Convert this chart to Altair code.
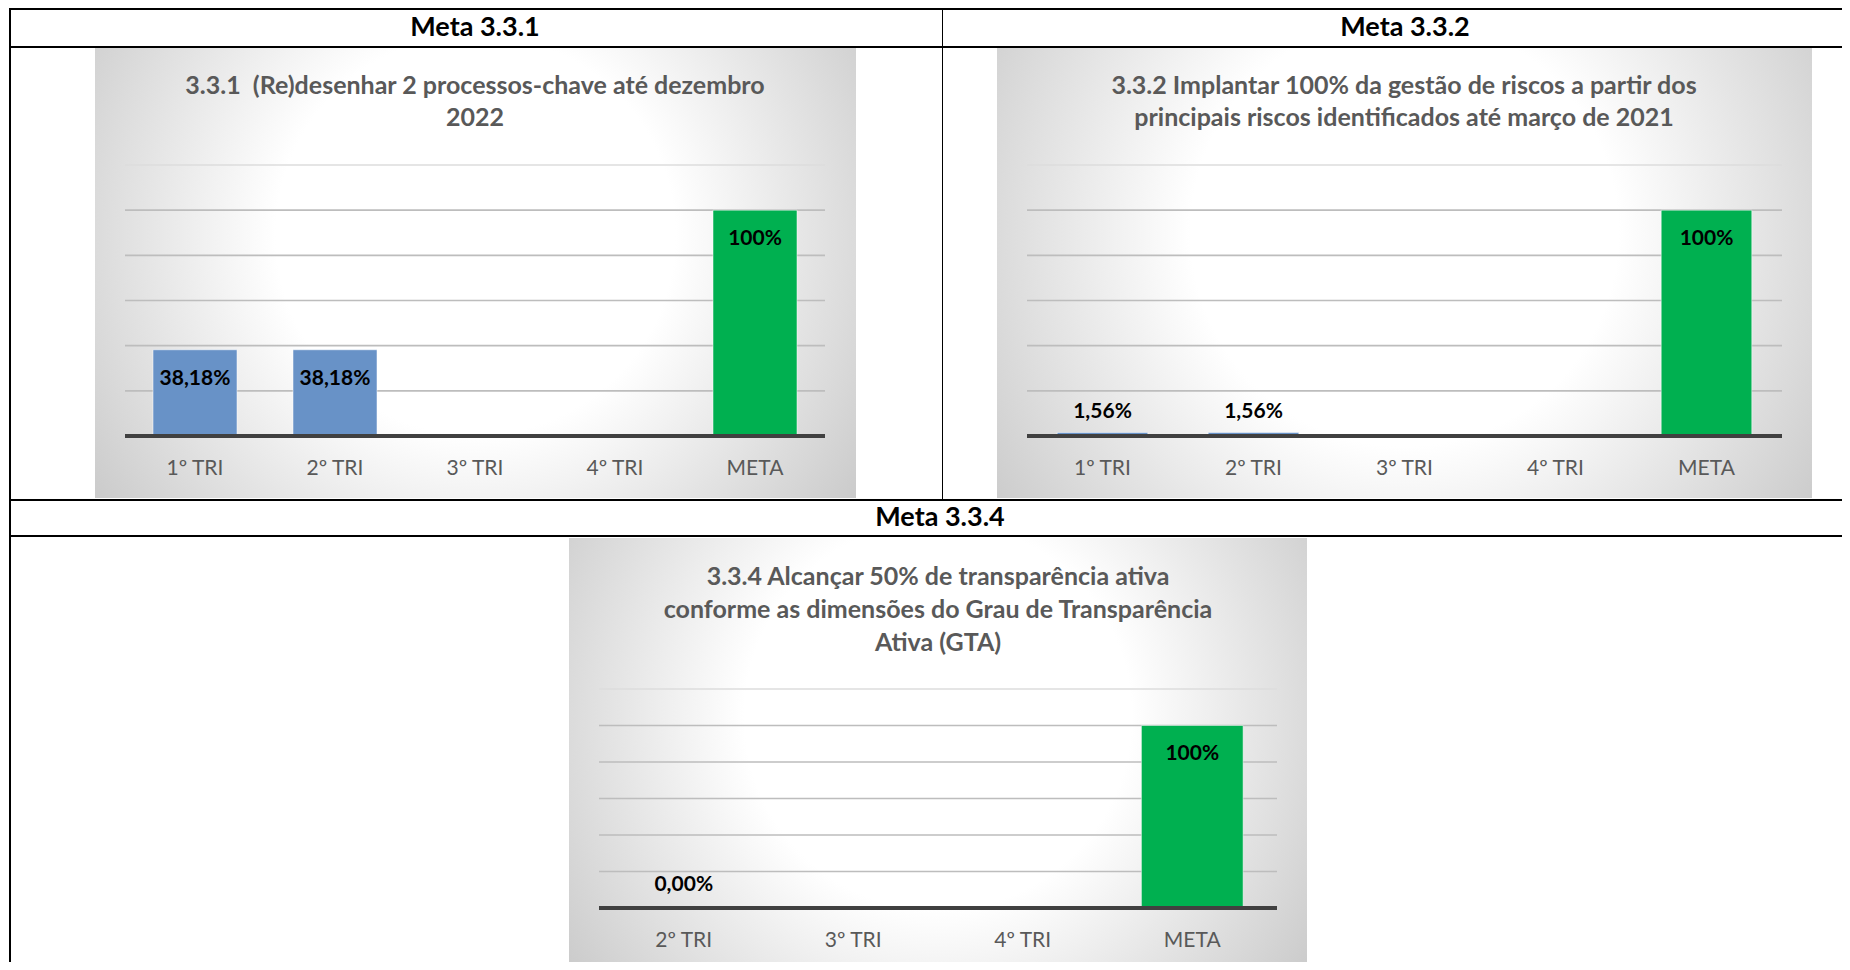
import altair as alt
import pandas as pd

# ---------------- data ----------------
headers = ["Meta 3.3.1", "Meta 3.3.2", "Meta 3.3.4"]

cats_331 = ["1º TRI", "2º TRI", "3º TRI", "4º TRI", "META"]
vals_331 = [0.3818, 0.3818, None, None, 1.0]
lbls_331 = ["38,18%", "38,18%", "", "", "100%"]
title_331 = ["3.3.1 \u00a0(Re)desenhar 2 processos-chave até dezembro", "2022"]

cats_332 = ["1º TRI", "2º TRI", "3º TRI", "4º TRI", "META"]
vals_332 = [0.0156, 0.0156, None, None, 1.0]
lbls_332 = ["1,56%", "1,56%", "", "", "100%"]
title_332 = ["3.3.2 Implantar 100% da gestão de riscos a partir dos",
             "principais riscos identificados até março de 2021"]

cats_334 = ["2º TRI", "3º TRI", "4º TRI", "META"]
vals_334 = [0.0, None, None, 1.0]
lbls_334 = ["0,00%", "", "", "100%"]
title_334 = ["3.3.4 Alcançar 50% de transparência ativa",
             "conforme as dimensões do Grau de Transparência",
             "Ativa (GTA)"]

grid_vals = [0.2, 0.4, 0.6, 0.8, 1.0, 1.2]
y_domain = [0, 1.2]

# ---------------- style ----------------
FONT = "Lato"
BLUE = "#6892c7"
GREEN = "#00b050"
TXT_GRAY = "#595959"
GRAD = {
    "gradient": "radial",
    "x1": 0.5, "y1": 0.45, "r1": 0,
    "x2": 0.5, "y2": 0.45, "r2": 0.75,
    "stops": [
        {"offset": 0, "color": "#ffffff"},
        {"offset": 0.35, "color": "#ffffff"},
        {"offset": 1, "color": "#b5b5b5"},
    ],
}
dummy = pd.DataFrame({"k": [0]})


def panel(cats, vals, lbls, title_lines, colors, g):
    df = pd.DataFrame({"cat": cats, "val": vals, "lbl": lbls})
    gdf = pd.DataFrame({"g": grid_vals})
    zdf = pd.DataFrame({"z": [0]})
    xs = alt.Scale(domain=cats, range=[g["px0"], g["px1"]], paddingInner=0.4, paddingOuter=0.2)
    ys = alt.Scale(domain=y_domain, range=[g["y0"], g["y1"]])
    X = alt.X("cat:N", scale=xs, axis=None)

    layers = []
    layers.append(
        alt.Chart(dummy).mark_rect(fill=GRAD).encode(
            x=alt.value(g["bx0"]), x2=alt.value(g["bx1"]),
            y=alt.value(g["by0"]), y2=alt.value(g["by1"]))
    )
    layers.append(
        alt.Chart(gdf).mark_rule(strokeWidth=1.6).encode(
            y=alt.Y("g:Q", scale=ys, axis=None),
            x=alt.value(g["px0"]), x2=alt.value(g["px1"]),
            color=alt.condition("datum.g > 1.1", alt.value("#dcdcdc"), alt.value("#bdbdbd")))
    )
    layers.append(
        alt.Chart(df).transform_filter("datum.val != null").mark_bar(
            stroke="#ffffff", strokeWidth=1, strokeOpacity=0.5).encode(
            x=X, y=alt.Y("val:Q", scale=ys, axis=None),
            color=alt.Color("cat:N", scale=alt.Scale(domain=cats, range=colors), legend=None))
    )
    layers.append(
        alt.Chart(zdf).mark_rule(strokeWidth=4, color="#404040").encode(
            y=alt.Y("z:Q", scale=ys, axis=None),
            x=alt.value(g["px0"]), x2=alt.value(g["px1"]))
    )
    layers.append(
        alt.Chart(df).transform_filter("datum.val != null && datum.val >= 0.1").mark_text(
            font=FONT, fontSize=21, fontWeight="bold", color="black", baseline="middle",
            dy=g["dy_in"]).encode(
            x=X, y=alt.Y("val:Q", scale=ys, axis=None), text="lbl:N")
    )
    layers.append(
        alt.Chart(df).transform_filter("datum.val != null && datum.val < 0.1").mark_text(
            font=FONT, fontSize=21, fontWeight="bold", color="black", baseline="middle",
            dy=g["dy_out"]).encode(
            x=X, y=alt.Y("val:Q", scale=ys, axis=None), text="lbl:N")
    )
    layers.append(
        alt.Chart(df).mark_text(font=FONT, fontSize=21, color=TXT_GRAY, baseline="middle").encode(
            x=X, y=alt.value(g["label_y"]), text="cat:N")
    )
    for line, ty in zip(title_lines, g["title_y"]):
        layers.append(
            alt.Chart(dummy).mark_text(
                text=line, font=FONT, fontSize=25, fontWeight="bold", color=TXT_GRAY,
                baseline="middle", align="center").encode(
                x=alt.value(g["title_x"]), y=alt.value(ty))
        )
    return alt.layer(*layers)


g1 = dict(bx0=87, bx1=848, by0=40, by1=490, px0=117, px1=817, y0=428, y1=157,
          title_x=467, title_y=[78, 110], label_y=461, dy_in=29, dy_out=-20)
g2 = dict(bx0=989, bx1=1804, by0=40, by1=490, px0=1019, px1=1774, y0=428, y1=157,
          title_x=1396, title_y=[78, 110], label_y=461, dy_in=29, dy_out=-20)
g3 = dict(bx0=561, bx1=1299, by0=530, by1=960, px0=591, px1=1269, y0=900, y1=681,
          title_x=930, title_y=[569, 602, 635], label_y=933, dy_in=28, dy_out=-23)

p1 = panel(cats_331, vals_331, lbls_331, title_331, [BLUE, BLUE, BLUE, BLUE, GREEN], g1)
p2 = panel(cats_332, vals_332, lbls_332, title_332, [BLUE, BLUE, BLUE, BLUE, GREEN], g2)
p3 = panel(cats_334, vals_334, lbls_334, title_334, [BLUE, BLUE, BLUE, GREEN], g3)

# ---------------- table decoration ----------------
W, H = 1834, 954
deco = []


def hline(y, x0, x1, w=2):
    return alt.Chart(dummy).mark_rule(color="black", strokeWidth=w).encode(
        y=alt.value(y), x=alt.value(x0), x2=alt.value(x1))


def vline(x, y0, y1, w=2):
    return alt.Chart(dummy).mark_rule(color="black", strokeWidth=w).encode(
        x=alt.value(x), y=alt.value(y0), y2=alt.value(y1))


deco += [hline(1, 1, W), hline(39, 1, W), hline(492, 1, W), hline(528, 1, W),
         vline(2, 0, H), vline(934.5, 0, 492, 1)]

for txt, hx, hy in zip(headers, [467, 1397, 932], [20, 20, 510]):
    deco.append(
        alt.Chart(dummy).mark_text(text=txt, font=FONT, fontSize=27, fontWeight="bold",
                                   color="black", baseline="middle", align="center").encode(
            x=alt.value(hx), y=alt.value(hy))
    )

chart = alt.layer(p1, p2, p3, *deco).resolve_scale(
    x="independent", y="independent", color="independent"
).properties(
    width=W, height=H, padding=0, autosize="none", background="white"
).configure_view(stroke=None)

chart.save("out.html", embed_options={"renderer": "svg", "actions": False})
